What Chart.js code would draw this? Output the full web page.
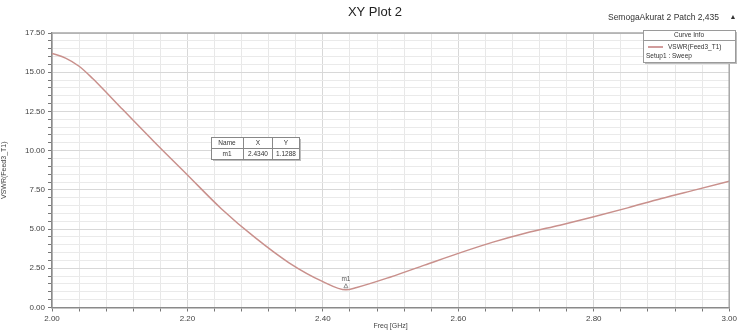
<!DOCTYPE html>
<html>
<head>
<meta charset="utf-8">
<script src="https://cdn.jsdelivr.net/npm/chart.js@4/dist/chart.umd.min.js"></script>
<style>
html,body{margin:0;padding:0;background:#fff;}
#wrap{width:739px;height:330px;position:relative;}
</style>
</head>
<body>
<div id="wrap"><canvas id="c" width="739" height="330"></canvas></div>
<script>
// ---- data ----
const freqs = [2.00, 2.02, 2.04, 2.06, 2.08, 2.10, 2.15, 2.20, 2.25, 2.30, 2.35, 2.40, 2.434, 2.45, 2.50, 2.55, 2.60, 2.65, 2.70, 2.75, 2.80, 2.85, 2.90, 2.95, 3.00];
const vswr  = [16.2, 15.9, 15.38, 14.6, 13.72, 12.82, 10.6, 8.45, 6.3, 4.45, 2.85, 1.65, 1.1288, 1.28, 1.95, 2.7, 3.45, 4.15, 4.75, 5.25, 5.78, 6.35, 6.95, 7.5, 8.05];
const xTicks = [2.00, 2.20, 2.40, 2.60, 2.80, 3.00];
const yTicks = [0.00, 2.50, 5.00, 7.50, 10.00, 12.50, 15.00, 17.50];
const markerName = 'm1';
const markerX = 2.4340;
const markerY = 1.1288;
const titleText = 'XY Plot 2';
const projectText = 'SemogaAkurat 2 Patch 2,435';
const seriesName = 'VSWR(Feed3_T1)';
const setupText = 'Setup1 : Sweep';

const FONT = 'Arial, "Liberation Sans", sans-serif';

const overlay = {
  id: 'overlay',
  afterDraw(chart) {
    const ctx = chart.ctx;
    const a = chart.chartArea;
    const xs = chart.scales.x, ys = chart.scales.y;
    ctx.save();
    // frame top/right
    ctx.strokeStyle = '#a8a8a8';
    ctx.lineWidth = 1.5;
    ctx.beginPath();
    ctx.moveTo(a.left, a.top); ctx.lineTo(a.right, a.top); ctx.lineTo(a.right, a.bottom);
    ctx.stroke();
    // title
    ctx.fillStyle = '#222';
    ctx.font = '13px ' + FONT;
    ctx.textAlign = 'center'; ctx.textBaseline = 'middle';
    ctx.fillText(titleText, 375, 12);
    ctx.font = '8.5px ' + FONT;
    ctx.textAlign = 'right';
    ctx.fillStyle = '#333';
    ctx.fillText(projectText, 719, 18);
    ctx.font = '7px ' + FONT;
    ctx.textAlign = 'center';
    ctx.fillText('\u25B2', 733, 17);
    // legend box
    const bx = 643, by = 30, bw = 92, bh = 32;
    ctx.fillStyle = '#bdbdbd';
    ctx.fillRect(bx + 2, by + 2, bw, bh);
    ctx.fillStyle = '#fff';
    ctx.fillRect(bx, by, bw, bh);
    ctx.strokeStyle = '#9a9a9a'; ctx.lineWidth = 1;
    ctx.strokeRect(bx + 0.5, by + 0.5, bw, bh);
    ctx.beginPath(); ctx.moveTo(bx, by + 10.5); ctx.lineTo(bx + bw, by + 10.5); ctx.stroke();
    ctx.fillStyle = '#333';
    ctx.font = '6.5px ' + FONT;
    ctx.textAlign = 'center';
    ctx.fillText('Curve Info', bx + bw / 2, by + 5.5);
    ctx.strokeStyle = '#c27b7b'; ctx.lineWidth = 1.5;
    ctx.beginPath(); ctx.moveTo(bx + 5, by + 17); ctx.lineTo(bx + 20, by + 17); ctx.stroke();
    ctx.textAlign = 'left';
    ctx.fillText(seriesName, bx + 25, by + 17);
    ctx.fillText(setupText, bx + 3, by + 26);
    // marker table
    const tx = 211, ty = 137, tw = 88, th = 22;
    ctx.fillStyle = '#bdbdbd';
    ctx.fillRect(tx + 2, ty + 2, tw, th);
    ctx.fillStyle = '#fff';
    ctx.fillRect(tx, ty, tw, th);
    ctx.strokeStyle = '#888'; ctx.lineWidth = 1;
    ctx.strokeRect(tx + 0.5, ty + 0.5, tw, th);
    ctx.beginPath();
    ctx.moveTo(tx, ty + 11.5); ctx.lineTo(tx + tw, ty + 11.5);
    ctx.moveTo(tx + 32.5, ty); ctx.lineTo(tx + 32.5, ty + th);
    ctx.moveTo(tx + 61.5, ty); ctx.lineTo(tx + 61.5, ty + th);
    ctx.stroke();
    ctx.fillStyle = '#333';
    ctx.font = '6.5px ' + FONT;
    ctx.textAlign = 'center';
    ctx.fillText('Name', tx + 16, ty + 6);
    ctx.fillText('X', tx + 47, ty + 6);
    ctx.fillText('Y', tx + 75, ty + 6);
    ctx.fillText(markerName, tx + 16, ty + 17);
    ctx.fillText(markerX.toFixed(4), tx + 47, ty + 17);
    ctx.fillText(markerY.toFixed(4), tx + 75, ty + 17);
    // marker on curve
    const mx = xs.getPixelForValue(markerX), my = ys.getPixelForValue(markerY);
    ctx.font = '6.5px ' + FONT;
    ctx.fillStyle = '#555';
    ctx.fillText(markerName, mx, my - 11);
    ctx.strokeStyle = '#777'; ctx.lineWidth = 0.8;
    ctx.beginPath();
    ctx.moveTo(mx - 2, my - 2); ctx.lineTo(mx + 2, my - 2); ctx.lineTo(mx, my - 6); ctx.closePath();
    ctx.stroke();
    ctx.restore();
  }
};

const xAll = []; for (let i = 0; i <= 25; i++) xAll.push(+(2 + i * 0.04).toFixed(2));
const yAll = []; for (let i = 0; i <= 35; i++) yAll.push(+(i * 0.5).toFixed(1));
const isMajX = v => xTicks.some(t => Math.abs(t - v) < 1e-6);
const isMajY = v => yTicks.some(t => Math.abs(t - v) < 1e-6);

new Chart(document.getElementById('c'), {
  type: 'line',
  data: {
    datasets: [{
      label: seriesName,
      data: freqs.map((f, i) => ({ x: f, y: vswr[i] })),
      borderColor: '#c9908c',
      borderWidth: 1.5,
      pointRadius: 0,
      cubicInterpolationMode: 'monotone',
      fill: false
    }]
  },
  options: {
    responsive: false,
    animation: false,
    layout: { padding: { top: 33, right: 8, left: 0, bottom: 0 } },
    plugins: { legend: { display: false }, tooltip: { enabled: false }, title: { display: false } },
    scales: {
      x: {
        type: 'linear', min: 2.0, max: 3.0,
        afterBuildTicks: s => { s.ticks = xAll.map(v => ({ value: v })); },
        afterFit: s => { s.height = 22.5; },
        ticks: {
          autoSkip: false, maxRotation: 0, padding: 2,
          font: { size: 8, family: FONT }, color: '#444',
          callback: v => isMajX(v) ? v.toFixed(2) : ''
        },
        grid: {
          color: c => isMajX(c.tick.value) ? '#d8d8d8' : '#e8e8e8',
          tickColor: '#777', tickLength: 4
        },
        border: { color: '#8a8a8a', width: 1.5 },
        title: { display: true, text: 'Freq [GHz]', font: { size: 7, family: FONT }, color: '#444', padding: { top: 0, bottom: 0 } }
      },
      y: {
        type: 'linear', min: 0, max: 17.5,
        afterBuildTicks: s => { s.ticks = yAll.map(v => ({ value: v })); },
        afterFit: s => { s.width = 52; },
        ticks: {
          autoSkip: false, padding: 3,
          font: { size: 8, family: FONT }, color: '#444',
          callback: v => isMajY(v) ? v.toFixed(2) : ''
        },
        grid: {
          color: c => isMajY(c.tick.value) ? '#d8d8d8' : '#eaeaea',
          tickColor: '#777', tickLength: 4
        },
        border: { color: '#8a8a8a', width: 1.5 },
        title: { display: true, text: 'VSWR(Feed3_T1)', font: { size: 7, family: FONT }, color: '#444', padding: { top: 0, bottom: 0 } }
      }
    }
  },
  plugins: [overlay]
});
</script>
</body>
</html>
